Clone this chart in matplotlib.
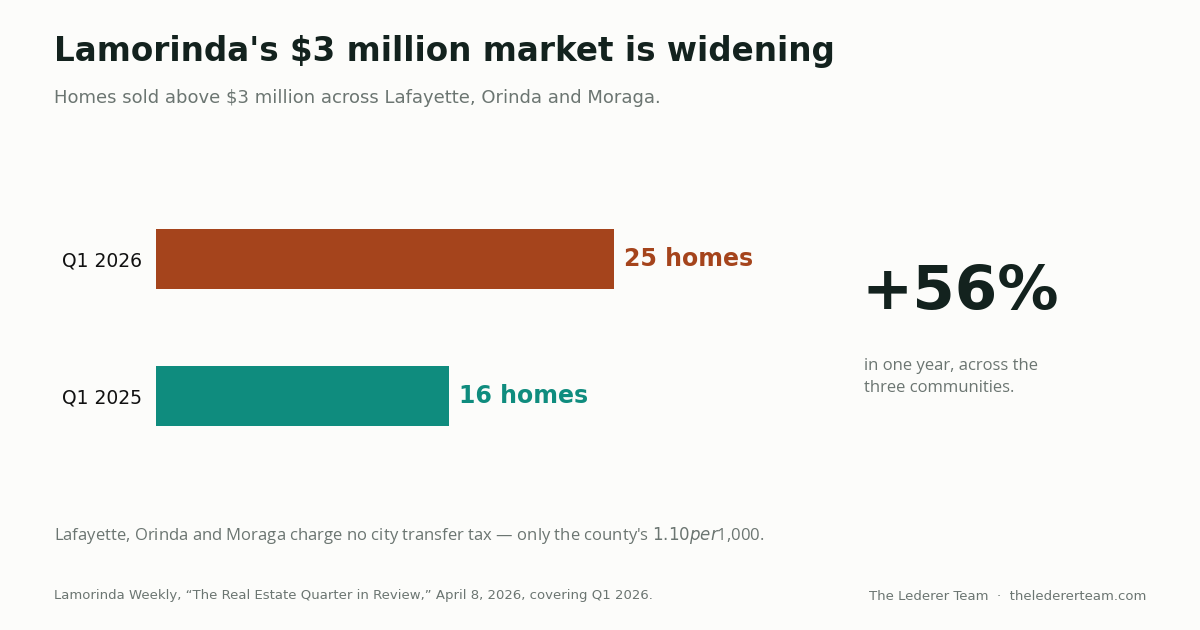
import matplotlib

matplotlib.use("Agg")
import matplotlib.pyplot as plt

SURFACE = "#fcfcfa"
INK = "#13221e"
MUTED = "#6b7571"
RUST = "#a5441c"
TEAL = "#0f8c7e"

quarters = ["Q1 2025", "Q1 2026"]
homes = [16, 25]
colors = [TEAL, RUST]
change_label = "+56%"

W, H = 1200, 630
fig = plt.figure(figsize=(12, 6.3), dpi=100, facecolor=SURFACE)


def fx(px):
    return px / W


def fy(py):
    return 1 - py / H


fig.text(fx(54), fy(51), "Lamorinda's $3 million market is widening",
         fontsize=23.5, fontweight="bold", color=INK, va="center")
fig.text(fx(54), fy(98), "Homes sold above $3 million across Lafayette, Orinda and Moraga.",
         fontsize=13, color=MUTED, va="center")

ax = fig.add_axes([fx(156), fy(465), fx(614 - 156), (465 - 190) / H])
ax.set_facecolor(SURFACE)
ax.barh(range(len(quarters)), homes, height=0.436, color=colors)
ax.set_xlim(0, max(homes))
ax.set_ylim(-0.5, len(quarters) - 0.5)
ax.set_yticks(range(len(quarters)))
ax.set_yticklabels(quarters, fontsize=13.5, color="#111111")
ax.tick_params(axis="y", length=0, pad=10)
ax.set_xticks([])
for s in ax.spines.values():
    s.set_visible(False)
for i, (v, c) in enumerate(zip(homes, colors)):
    ax.annotate(f"{v} homes", (v, i), textcoords="offset points", xytext=(7, 0),
                va="center", ha="left", fontsize=17, fontweight="bold", color=c,
                annotation_clip=False)

fig.text(fx(862), fy(293), change_label, fontsize=44, fontweight="bold",
         color=INK, va="center")
fig.text(fx(864), fy(377), "in one year, across the\nthree communities.",
         fontsize=12, color=MUTED, va="center", linespacing=1.5,
         family="Open Sans")

fig.text(fx(54), fy(536),
         "Lafayette, Orinda and Moraga charge no city transfer tax \u2014 only the county's $1.10 per $1,000.",
         fontsize=12, color=MUTED, va="center", family="Open Sans")
fig.text(fx(54), fy(596),
         "Lamorinda Weekly, \u201cThe Real Estate Quarter in Review,\u201d April 8, 2026, covering Q1 2026.",
         fontsize=9.5, color=MUTED, va="center")
fig.text(fx(1146), fy(596), "The Lederer Team  \u00b7  theledererteam.com",
         fontsize=9.5, color=MUTED, va="center", ha="right")

fig.savefig("out.png", dpi=100, facecolor=SURFACE)
